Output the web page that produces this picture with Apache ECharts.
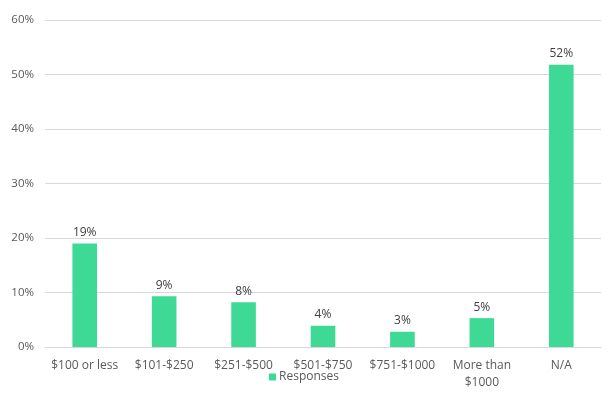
<!DOCTYPE html>
<html><head><meta charset="utf-8">
<script src="https://cdn.jsdelivr.net/npm/echarts@6/dist/echarts.min.js"></script>
<style>html,body{margin:0;padding:0;background:#fff}#c{width:608px;height:397px}</style>
</head><body><div id="c"></div>
<script>
const categories = ['$100 or less', '$101-$250', '$251-$500', '$501-$750', '$751-$1000', 'More than\n$1000', 'N/A'];
const responses = [19.0, 9.3, 8.2, 3.9, 2.8, 5.3, 51.8];
const yTicks = [0, 10, 20, 30, 40, 50, 60];
const seriesName = 'Responses';

const font = 'Open Sans, Lato, Liberation Sans, sans-serif';
const chart = echarts.init(document.getElementById('c'), null, {renderer: 'canvas'});
chart.setOption({
  animation: false,
  grid: {left: 45, right: 7, top: 20, bottom: 50, containLabel: false},
  legend: {
    data: [seriesName], bottom: 9, left: 'center', itemWidth: 7, itemHeight: 7, itemGap: 4,
    icon: 'rect',
    textStyle: {color: '#595959', fontSize: 12, fontFamily: font, padding: [0,0,0,-2]}
  },
  xAxis: {
    type: 'category', data: categories,
    axisLine: {lineStyle: {color: '#d9d9d9'}}, axisTick: {show: false},
    axisLabel: {color: '#595959', fontSize: 12, fontFamily: font, margin: 10, lineHeight: 17, interval: 0}
  },
  yAxis: {
    type: 'value', min: yTicks[0], max: yTicks[yTicks.length-1], interval: 10,
    axisLine: {show: false}, axisTick: {show: false},
    splitLine: {lineStyle: {color: '#d9d9d9'}},
    axisLabel: {color: '#595959', fontSize: 11.5, fontFamily: font, margin: 11, formatter: v => v + '%'}
  },
  series: [{
    name: seriesName, type: 'bar', data: responses, barWidth: '31%',
    itemStyle: {color: '#3fd996'},
    label: {show: true, position: 'top', distance: 5, color: '#404040', fontSize: 12, fontFamily: font,
      formatter: p => Math.round(p.value) + '%'}
  }]
});
</script></body></html>
